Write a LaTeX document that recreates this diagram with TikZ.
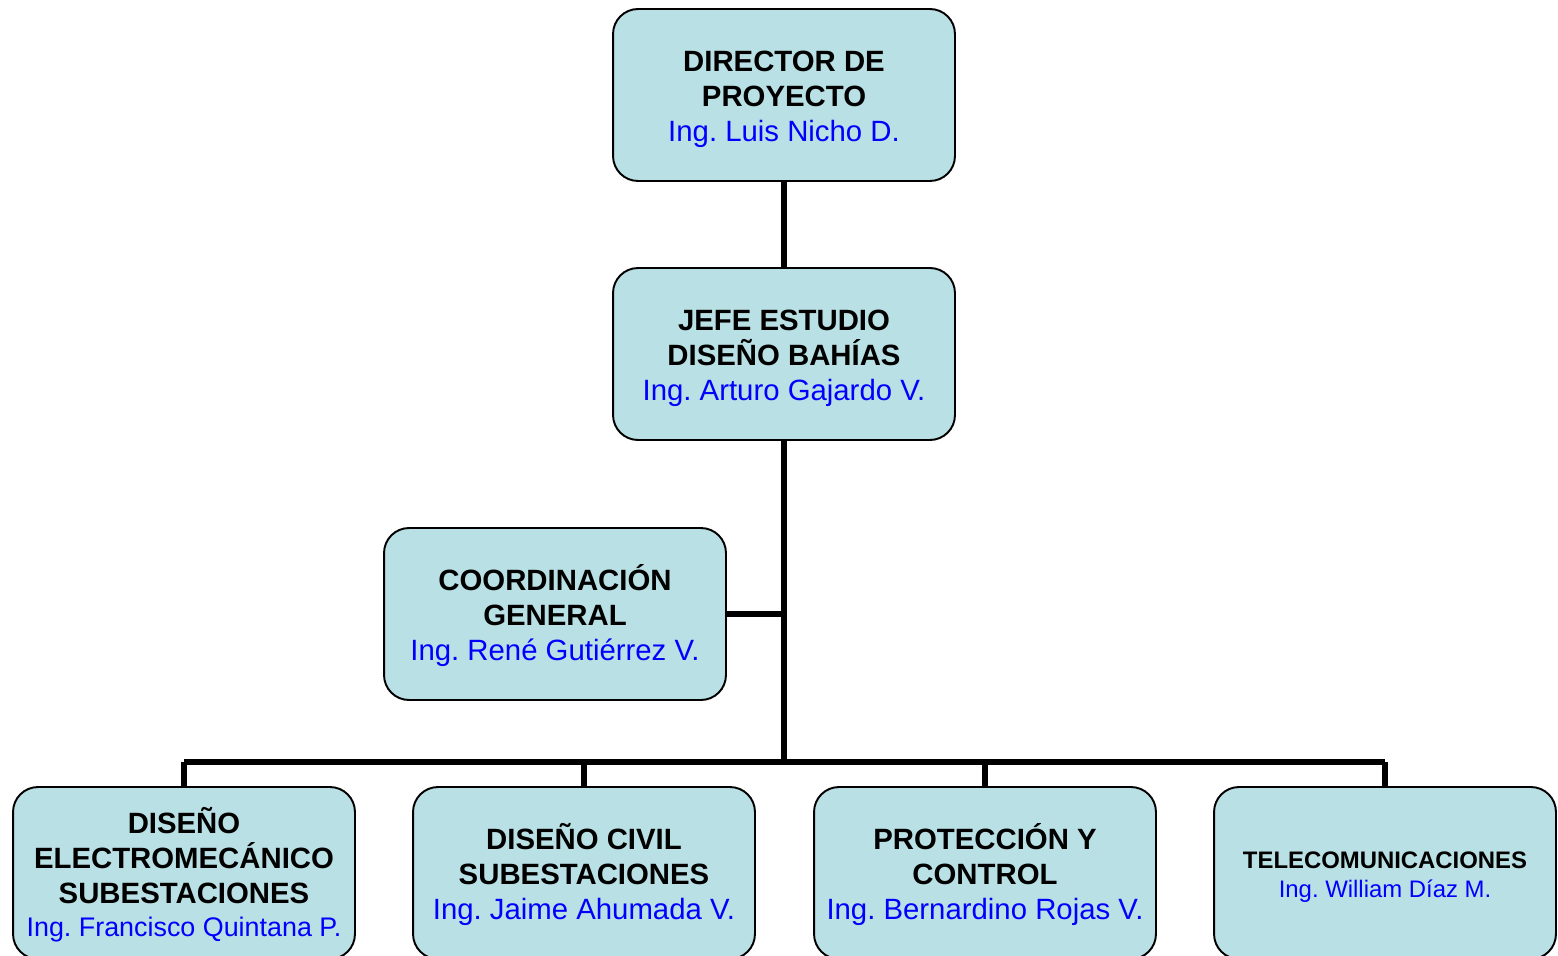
\documentclass[tikz,border=0pt]{standalone}
\usepackage{fontspec}
\setmainfont{Liberation Sans}
\usetikzlibrary{positioning}
\definecolor{boxfill}{RGB}{185,224,228}
\definecolor{namecol}{RGB}{0,0,255}
\frenchspacing

\begin{document}
\begin{tikzpicture}[x=0.02cm, y=-0.02cm,
	unit/.style={draw=black, line width=1.1pt, fill=boxfill, rounded corners=0.5cm,
		minimum width=6.84cm, minimum height=3.44cm, align=center, inner sep=0pt,
		font=\fontsize{16.7}{20}\selectfont\bfseries},
	link/.style={line width=3.4pt}]
	\useasboundingbox (0,0) rectangle (1558,956);
	\clip (0,0) rectangle (1558,956);

	% Boxes:
	\node[unit] (dir) at (784,95) {\rule{0pt}{1em}DIRECTOR DE\\PROYECTO\\{\mdseries\color{namecol}Ing. Luis Nicho D.}};
	\node[unit] (jefe) at (784,354) {\rule{0pt}{1em}JEFE ESTUDIO\\DISE\~NO BAH\'IAS\\{\mdseries\color{namecol}Ing. Arturo Gajardo V.}};
	\node[unit] (coord) at (555,614) {\rule{0pt}{1em}COORDINACI\'ON\\GENERAL\\{\mdseries\color{namecol}Ing. Ren\'e Guti\'errez V.}};

	\node[unit] (elec) at (184,873) {\rule{0pt}{1em}DISE\~NO\\ELECTROMEC\'ANICO\\SUBESTACIONES\\[-1.5pt]{\mdseries\color{namecol}\fontsize{15.3}{20}\selectfont Ing. Francisco Quintana P.}};
	\node[unit] (civil) at (584,873) {\rule{0pt}{1em}DISE\~NO CIVIL\\SUBESTACIONES\\{\mdseries\color{namecol}Ing. Jaime Ahumada V.}};
	\node[unit] (prot) at (985,873) {\rule{0pt}{1em}PROTECCI\'ON Y\\CONTROL\\{\mdseries\color{namecol}Ing. Bernardino Rojas V.}};
	\node[unit, font=\fontsize{13.6}{16.5}\selectfont\bfseries] (tele) at (1385,873) {\rule{0pt}{1.05em}TELECOMUNICACIONES\\{\mdseries\color{namecol}Ing. William D\'iaz M.}};

	% Lines:
	\coordinate (bus) at (784,762);
	\draw[link] (dir.south) -- (jefe.north);
	\draw[link] (jefe.south) -- (bus);
	\draw[link] (coord.east) -- (coord.east -| jefe.south);
	\draw[link] (elec.north |- bus) -- (tele.north |- bus);
	\draw[link] (elec.north) -- (elec.north |- bus);
	\draw[link] (civil.north) -- (civil.north |- bus);
	\draw[link] (prot.north) -- (prot.north |- bus);
	\draw[link] (tele.north) -- (tele.north |- bus);

\end{tikzpicture}
\end{document}
